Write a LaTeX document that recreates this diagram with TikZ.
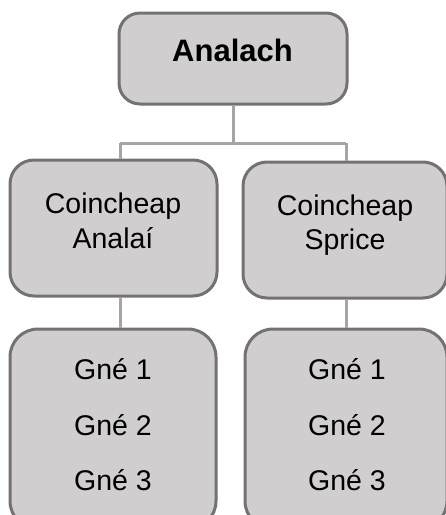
\documentclass[tikz,border=0pt]{standalone}
\usepackage{fontspec}
\setmainfont{Liberation Sans}
\definecolor{boxfill}{HTML}{D0CECE}
\definecolor{boxline}{HTML}{767171}
\definecolor{connline}{HTML}{A5A5A5}
\tikzset{
  box/.style={draw=boxline, fill=boxfill, line width=3pt, inner sep=0pt, rectangle},
  conn/.style={draw=connline, line width=3pt},
  txt/.style={anchor=base, inner sep=0pt, font=\fontsize{28.5}{34}\selectfont},
  bold txt/.style={anchor=base, inner sep=0pt, font=\fontsize{31}{36}\selectfont\bfseries}
}
\begin{document}
\begin{tikzpicture}[x=1pt,y=-1pt]
\useasboundingbox (0,0) rectangle (446,515);
\clip (0,0) rectangle (446,515);
% boxes
\node[box, rounded corners=21pt, minimum width=228pt, minimum height=91pt] (top) at (233,58.5) {};
\node[box, rounded corners=24pt, minimum width=207pt, minimum height=136pt] (lm) at (113.5,228) {};
\node[box, rounded corners=24pt, minimum width=204pt, minimum height=136pt] (rm) at (345,230) {};
\node[box, rounded corners=28pt, minimum width=206pt, minimum height=200pt] (lb) at (113,429) {};
\node[box, rounded corners=28pt, minimum width=202pt, minimum height=200pt] (rb) at (346,429) {};
% connectors
\coordinate (jm) at (233,143);
\coordinate (jl) at (120,143);
\coordinate (jr) at (346,143);
\draw[conn] (top.south) -- (jm);
\draw[conn] (jl) -- (jr);
\draw[conn] (jl) -- (jl |- lm.north);
\draw[conn] (jr) -- (jr |- rm.north);
\draw[conn] (lm.south -| jl) -- (lb.north -| jl);
\draw[conn] (rm.south -| jr) -- (rb.north -| jr);
% texts
\node[bold txt] (t0) at (232.5,61.7) {Analach};
\node[txt] (t1) at (113,213) {Coincheap};
\node[txt] (t2) at (113,248) {Analaí};
\node[txt] (t3) at (345,215) {Coincheap};
\node[txt] (t4) at (345,249) {Sprice};
\node[txt] (l1) at (113,379.3) {Gné 1};
\node[txt] (l2) at (113,435) {Gné 2};
\node[txt] (l3) at (113,490) {Gné 3};
\node[txt] (r1) at (347,379.3) {Gné 1};
\node[txt] (r2) at (347,435) {Gné 2};
\node[txt] (r3) at (347,490) {Gné 3};
\end{tikzpicture}
\end{document}
